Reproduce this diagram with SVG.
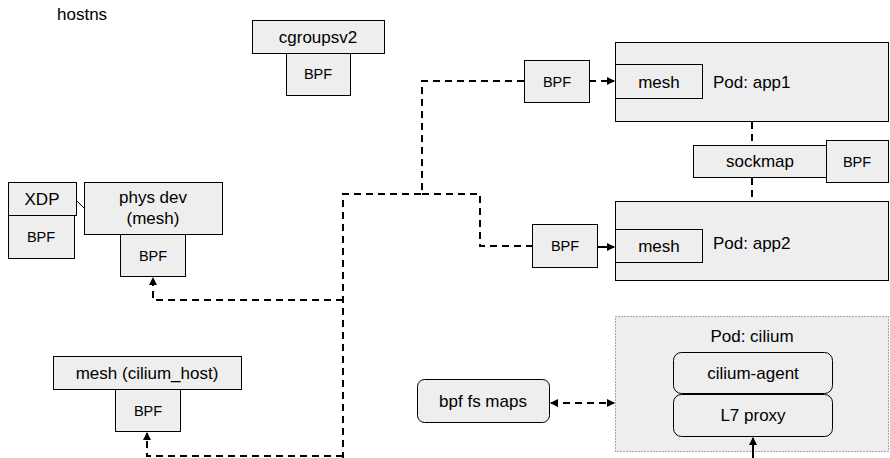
<svg xmlns="http://www.w3.org/2000/svg" width="890" height="458" viewBox="0 0 890 458">
<style>
.b{fill:#eeeeee;stroke:#000;stroke-width:1}
.r{fill:#eeeeee;stroke:#000;stroke-width:1}
.t{font-family:"Liberation Sans",Arial,sans-serif;font-size:17px;fill:#000;text-anchor:middle}
.s{font-family:"Liberation Sans",Arial,sans-serif;font-size:14.5px;fill:#000;text-anchor:middle}
.d{fill:none;stroke:#000;stroke-width:2;stroke-dasharray:7,5}
.l{fill:none;stroke:#000;stroke-width:2}
</style>
<defs>
<marker id="ah" markerWidth="8" markerHeight="8" refX="7" refY="4" orient="auto" markerUnits="userSpaceOnUse">
<path d="M0,0 L8,4 L0,8 Z" fill="#000"/>
</marker>
<marker id="as" markerWidth="8" markerHeight="8" refX="1" refY="4" orient="auto" markerUnits="userSpaceOnUse">
<path d="M8,0 L0,4 L8,8 Z" fill="#000"/>
</marker>
</defs>
<rect width="890" height="458" fill="#fff"/>
<text x="57" y="20" class="t" style="text-anchor:start">hostns</text>

<g id="cgroupsv2">
<rect class="b" x="252.5" y="20.5" width="132" height="33"/>
<text class="t" x="318" y="43">cgroupsv2</text>
<rect class="b" x="286.5" y="53.5" width="64" height="42"/>
<text class="s" x="318" y="79">BPF</text>
</g>

<g id="xdp">
<rect class="b" x="8.5" y="182.5" width="68" height="33"/>
<text class="t" x="42" y="205">XDP</text>
<rect class="b" x="8.5" y="215.5" width="66" height="43"/>
<text class="s" x="41" y="242">BPF</text>
</g>

<g id="physdev">
<rect class="b" x="84.5" y="182.5" width="138" height="52"/>
<text class="t" x="153" y="203">phys dev</text>
<text class="t" x="153" y="224">(mesh)</text>
<rect class="b" x="120.5" y="234.5" width="65" height="42"/>
<text class="s" x="153" y="261">BPF</text>
</g>

<g id="ciliumhost">
<rect class="b" x="53.5" y="356.5" width="188" height="33"/>
<text class="t" x="147" y="379">mesh (cilium_host)</text>
<rect class="b" x="115.5" y="389.5" width="65" height="42"/>
<text class="s" x="148" y="416">BPF</text>
</g>

<g id="bpf-app1">
<rect class="b" x="524.5" y="60.5" width="65" height="42"/>
<text class="s" x="557" y="87">BPF</text>
</g>

<g id="pod-app1">
<rect class="b" x="615.5" y="42.5" width="273" height="79"/>
<rect class="b" x="615.5" y="64.5" width="87" height="34"/>
<text class="t" x="659" y="88">mesh</text>
<text class="t" x="713" y="88" style="text-anchor:start">Pod: app1</text>
</g>

<g id="sockmap">
<rect class="b" x="693.5" y="145.5" width="133" height="32"/>
<text class="t" x="760" y="167">sockmap</text>
<rect class="b" x="826.5" y="140.5" width="62" height="42"/>
<text class="s" x="857" y="167">BPF</text>
</g>

<g id="bpf-app2">
<rect class="b" x="532.5" y="224.5" width="65" height="43"/>
<text class="s" x="565" y="251">BPF</text>
</g>

<g id="pod-app2">
<rect class="b" x="615.5" y="201.5" width="273" height="79"/>
<rect class="b" x="615.5" y="229.5" width="87" height="33"/>
<text class="t" x="659" y="252">mesh</text>
<text class="t" x="713" y="249" style="text-anchor:start">Pod: app2</text>
</g>

<g id="bpffsmaps">
<rect class="r" x="417.5" y="379.5" width="132" height="43" rx="7"/>
<text class="t" x="483" y="407">bpf fs maps</text>
</g>

<g id="pod-cilium">
<rect x="615.5" y="316.5" width="273" height="135" fill="#eeeeee" stroke="#555" stroke-width="1" stroke-dasharray="1,2"/>
<text class="t" x="752" y="342">Pod: cilium</text>
<rect class="r" x="673.5" y="352.5" width="159" height="41" rx="8"/>
<text class="t" x="753" y="379">cilium-agent</text>
<rect class="r" x="673.5" y="394.5" width="159" height="42" rx="8"/>
<text class="t" x="753" y="421">L7 proxy</text>
</g>

<g id="connectors">
<path class="d" d="M524,81 L422,81 L422,194 L343,194 L343,458"/>
<path class="d" d="M422,194 L480,194 L480,246 L532,246"/>
<path class="d" d="M343,300 L153,300 L153,278" marker-end="url(#ah)"/>
<path class="d" d="M343,456 L147,456 L147,433" marker-end="url(#ah)"/>
<path class="d" d="M589,81 L614,81" marker-end="url(#ah)"/>
<path class="l" d="M597,247 L614,247" marker-end="url(#ah)"/>
<path class="d" d="M752,122 L752,145"/>
<path class="d" d="M752,178 L752,201"/>
<path class="d" d="M551,403 L614,403" marker-start="url(#as)" marker-end="url(#ah)"/>
<path class="l" d="M753,458 L753,438" marker-end="url(#ah)"/>
<path d="M76,200 L84,208" fill="none" stroke="#000" stroke-width="1"/>
</g>
</svg>
